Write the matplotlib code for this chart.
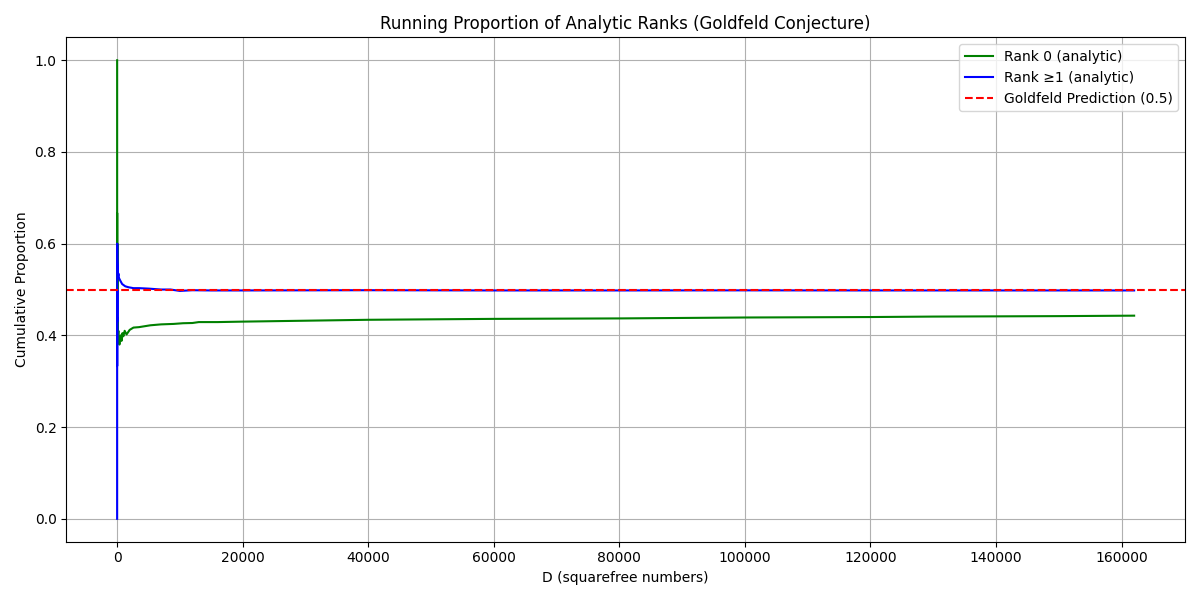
from matplotlib import pyplot as plt

# squarefree D checkpoints and running proportions
d_rank0 = [1, 2, 3, 5, 7, 10, 14, 20, 30, 50, 80, 120, 200, 300, 370, 450, 550, 700, 850,
           1000, 1200, 1500, 2000, 2600, 3500, 5300, 7000, 9000, 10500, 12000, 13000,
           16000, 20000, 30000, 40000, 50000, 60000, 70000, 80000, 90000, 100000,
           110000, 120000, 130000, 140000, 150000, 162000]
rank0 = [1.0, 0.5, 0.667, 0.5, 0.6, 0.5, 0.45, 0.42, 0.44, 0.41, 0.43, 0.40, 0.41, 0.39,
         0.38, 0.395, 0.40, 0.388, 0.405, 0.398, 0.41, 0.402, 0.412, 0.417, 0.418, 0.422,
         0.424, 0.425, 0.4265, 0.427, 0.429, 0.429, 0.430, 0.432, 0.434, 0.435, 0.436,
         0.4365, 0.437, 0.438, 0.439, 0.4395, 0.440, 0.441, 0.4415, 0.442, 0.443]

d_rank1 = [1, 2, 3, 5, 7, 10, 14, 20, 30, 50, 100, 150, 200, 300, 480, 800, 1000, 1300,
           1800, 2600, 3500, 5000, 7000, 8500, 10000, 12000, 15000, 20000, 40000, 60000,
           80000, 100000, 120000, 140000, 162000]
rank1 = [0.0, 0.5, 0.333, 0.5, 0.43, 0.5, 0.57, 0.6, 0.57, 0.56, 0.55, 0.53, 0.535, 0.525,
         0.52, 0.512, 0.51, 0.507, 0.505, 0.503, 0.503, 0.502, 0.5, 0.5, 0.497, 0.4985,
         0.498, 0.498, 0.4985, 0.498, 0.498, 0.4982, 0.498, 0.498, 0.498]

goldfeld = 0.5

plt.figure(figsize=(12, 6), dpi=100)
plt.plot(d_rank0, rank0, color='green', label='Rank 0 (analytic)')
plt.plot(d_rank1, rank1, color='blue', label='Rank \u22651 (analytic)')
plt.axhline(goldfeld, color='red', linestyle='--', label='Goldfeld Prediction (0.5)')
plt.title('Running Proportion of Analytic Ranks (Goldfeld Conjecture)')
plt.xlabel('D (squarefree numbers)')
plt.ylabel('Cumulative Proportion')
plt.legend(loc='upper right')
plt.grid(True)
plt.tight_layout()
plt.savefig('out.png')
